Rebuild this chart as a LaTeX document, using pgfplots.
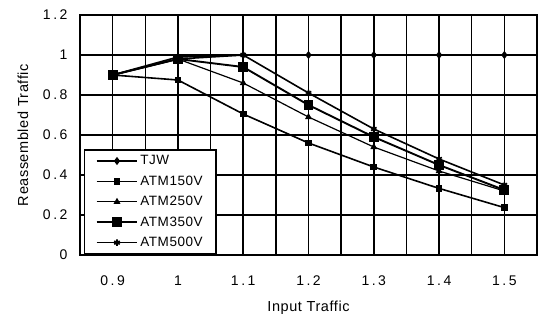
\documentclass[border=0pt]{standalone}
\usepackage{pgfplots}
\pgfplotsset{compat=1.18}
\usepackage{fontspec}
\setmainfont{Liberation Sans}
\newfontfamily\tickfont[LetterSpace=18]{Liberation Sans}
\newfontfamily\labfont[LetterSpace=4]{Liberation Sans}
\begin{document}
\begin{tikzpicture}
\begin{axis}[
  scale only axis,
  width=457pt, height=240pt,
  xmin=0.85, xmax=1.55, ymin=0, ymax=1.2,
  xtick={0.9,0.95,1,1.05,1.1,1.15,1.2,1.25,1.3,1.35,1.4,1.45,1.5},
  xticklabels={0.9,,1,,1.1,,1.2,,1.3,,1.4,,1.5},
  ytick={0,0.2,0.4,0.6,0.8,1,1.2},
  yticklabels={0,0.2,0.4,0.6,0.8,1,1.2},
  major tick length=0pt,
  xmajorgrids, ymajorgrids,
  grid style={black, line width=1.5pt},
  axis line style={black, line width=1.8pt},
  tick label style={font=\fontsize{14}{16}\tickfont},
  xticklabel style={yshift=-17pt},
  yticklabel style={xshift=-9pt},
  label style={font=\fontsize{14.5}{17}\labfont},
  xlabel={Input Traffic},
  ylabel={Reassembled Traffic},
  xlabel style={at={(axis description cs:0.5,-0.221)}, anchor=center},
  ylabel style={at={(axis description cs:-0.125,0.5)}, anchor=center},
  legend style={at={(rel axis cs:0.008,0)}, anchor=south west,
    draw=black, line width=1.8pt, fill=white,
    font=\fontsize{13.5}{15}\labfont, row sep=5.5pt,
    inner xsep=11pt, inner ysep=4pt},
  legend cell align=left,
  legend image code/.code={
    \draw[mark repeat=2,mark phase=2] plot coordinates {(0cm,0cm) (0.72cm,0cm) (1.44cm,0cm)};
  },
  every axis plot/.append style={black, line width=1.6pt},
]
\draw[black, line width=1.5pt] (axis cs:0.95,0) -- (axis cs:0.95,1.2);
\draw[black, line width=1.5pt] (axis cs:1.05,0) -- (axis cs:1.05,1.2);
\draw[black, line width=1.5pt] (axis cs:1.15,0) -- (axis cs:1.15,1.2);
\draw[black, line width=1.5pt] (axis cs:1.25,0) -- (axis cs:1.25,1.2);
\draw[black, line width=1.5pt] (axis cs:1.35,0) -- (axis cs:1.35,1.2);
\draw[black, line width=1.5pt] (axis cs:1.45,0) -- (axis cs:1.45,1.2);
\addplot[mark=diamond*, mark size=2.8pt, mark options={solid}] coordinates {
 (0.9,0.9) (1,0.98) (1.1,1.0) (1.2,1.0) (1.3,1.0) (1.4,1.0) (1.5,1.0)};
\addlegendentry{TJW}
\addplot[mark=square*, mark size=2.6pt] coordinates {
 (0.9,0.9) (1,0.875) (1.1,0.705) (1.2,0.56) (1.3,0.44) (1.4,0.333) (1.5,0.237)};
\addlegendentry{ATM150V}
\addplot[mark=triangle*, mark size=2.8pt, line width=1.2pt] coordinates {
 (0.9,0.9) (1,0.98) (1.1,0.86) (1.2,0.69) (1.3,0.54) (1.4,0.42) (1.5,0.32)};
\addlegendentry{ATM250V}
\addplot[mark=square*, mark size=4pt, line width=1.9pt] coordinates {
 (0.9,0.9) (1,0.98) (1.1,0.94) (1.2,0.75) (1.3,0.59) (1.4,0.45) (1.5,0.325)};
\addlegendentry{ATM350V}
\addplot[mark=asterisk, mark size=3.2pt, mark options={line width=1.7pt}] coordinates {
 (0.9,0.9) (1,0.99) (1.1,1.0) (1.2,0.81) (1.3,0.63) (1.4,0.48) (1.5,0.35)};
\addlegendentry{ATM500V}
\end{axis}
\path (current axis.south west) ++(-80pt,-64pt) coordinate (bbA);
\path (current axis.north east) ++(6pt,15pt) coordinate (bbB);
\path (bbA) (bbB);
\end{tikzpicture}
\end{document}
